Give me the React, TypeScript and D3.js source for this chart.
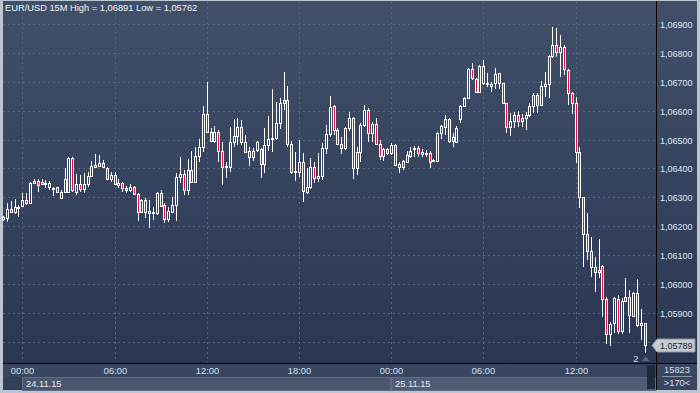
import React, { useEffect } from "react";
import * as d3 from "d3";

const symbol = "EUR/USD";
const timeframe = "15M";

const open = [
  1.06225, 1.0623, 1.06259, 1.06249, 1.06262, 1.06271, 1.06291, 1.0628, 1.06349, 1.06356,
  1.06345, 1.06345, 1.06349, 1.06332, 1.06335, 1.06297, 1.0632, 1.0632, 1.06435, 1.0632,
  1.06345, 1.06328, 1.06345, 1.06374, 1.06406, 1.06409, 1.0642, 1.06401, 1.06363, 1.06378,
  1.06344, 1.06351, 1.06332, 1.06327, 1.06336, 1.06312, 1.06249, 1.06291, 1.06247, 1.06245,
  1.06245, 1.06314, 1.06274, 1.06224, 1.06251, 1.06274, 1.0637, 1.06381, 1.06326, 1.06395,
  1.06354, 1.06443, 1.06473, 1.06589, 1.06527, 1.06496, 1.06525, 1.06462, 1.06404, 1.06406,
  1.06493, 1.06513, 1.06544, 1.06493, 1.06461, 1.06441, 1.06464, 1.06466, 1.06415, 1.06481,
  1.06502, 1.06505, 1.06556, 1.06626, 1.06637, 1.06484, 1.06387, 1.06389, 1.06422, 1.0632,
  1.06337, 1.06406, 1.06366, 1.06375, 1.0647, 1.06518, 1.06615, 1.06534, 1.06484, 1.0647,
  1.06539, 1.06574, 1.06403, 1.06458, 1.06551, 1.06602, 1.06522, 1.06553, 1.06484, 1.06443,
  1.06468, 1.06453, 1.06481, 1.06406, 1.06426, 1.06424, 1.06443, 1.06468, 1.06472, 1.0645,
  1.06449, 1.06453, 1.06426, 1.06426, 1.06522, 1.06545, 1.0657, 1.06508, 1.06493, 1.0657,
  1.06616, 1.06643, 1.06744, 1.06709, 1.06666, 1.06695, 1.06691, 1.06686, 1.06695, 1.06729,
  1.06695, 1.06626, 1.06545, 1.06564, 1.06585, 1.06564, 1.06574, 1.06585, 1.06616, 1.06654,
  1.0662, 1.06686, 1.06691, 1.06789, 1.06827, 1.06804, 1.06819, 1.06741, 1.06662, 1.06626,
  1.06458, 1.063, 1.06173, 1.06115, 1.06058, 1.06041, 1.06063, 1.05949, 1.05827, 1.05864,
  1.05949, 1.05839, 1.05943, 1.05957, 1.0589, 1.05968, 1.05859, 1.05864,
];

const high = [
  1.06236, 1.06281, 1.06287, 1.06294, 1.06274, 1.06314, 1.06316, 1.06354, 1.06363, 1.06363,
  1.06363, 1.0636, 1.06358, 1.06337, 1.06337, 1.06324, 1.06401, 1.06439, 1.06441, 1.06381,
  1.06378, 1.06383, 1.06389, 1.06427, 1.06449, 1.06447, 1.06429, 1.06404, 1.06389, 1.06389,
  1.06363, 1.06354, 1.0634, 1.06345, 1.0634, 1.06314, 1.06295, 1.06297, 1.06291, 1.06268,
  1.0632, 1.06326, 1.0628, 1.06268, 1.06302, 1.06383, 1.06441, 1.06395, 1.06433, 1.06461,
  1.06476, 1.06502, 1.06617, 1.067, 1.06539, 1.06547, 1.06533, 1.06493, 1.06424, 1.06545,
  1.06571, 1.06574, 1.06568, 1.06516, 1.06476, 1.0647, 1.06495, 1.0647, 1.06539, 1.06583,
  1.06675, 1.06631, 1.06643, 1.06735, 1.06687, 1.06495, 1.06458, 1.06499, 1.06453, 1.06403,
  1.06435, 1.06424, 1.06453, 1.06487, 1.06551, 1.06651, 1.0662, 1.06539, 1.0651, 1.06545,
  1.06594, 1.06579, 1.06476, 1.06557, 1.0662, 1.06608, 1.06562, 1.06576, 1.06499, 1.06472,
  1.06472, 1.06487, 1.06484, 1.06424, 1.06429, 1.06461, 1.06476, 1.06479, 1.06479, 1.06468,
  1.06464, 1.06461, 1.06433, 1.06527, 1.06551, 1.06585, 1.06574, 1.06522, 1.06547, 1.0662,
  1.06649, 1.06747, 1.06766, 1.06712, 1.06758, 1.06775, 1.06729, 1.067, 1.06747, 1.06732,
  1.06697, 1.06628, 1.06593, 1.06597, 1.06599, 1.06589, 1.06597, 1.06628, 1.0666, 1.06661,
  1.06702, 1.06734, 1.06793, 1.06891, 1.06885, 1.06862, 1.06827, 1.06743, 1.06666, 1.06646,
  1.06476, 1.06302, 1.06247, 1.06162, 1.06095, 1.06155, 1.06066, 1.05957, 1.0587, 1.05954,
  1.05962, 1.05952, 1.0602, 1.0598, 1.05974, 1.06017, 1.05913, 1.05867,
];

const low = [
  1.06219, 1.06216, 1.06247, 1.06243, 1.06233, 1.06268, 1.06274, 1.06276, 1.06345, 1.06318,
  1.06342, 1.06332, 1.06326, 1.06305, 1.06316, 1.06295, 1.06316, 1.06314, 1.06318, 1.06308,
  1.0632, 1.06316, 1.06337, 1.06372, 1.06404, 1.06404, 1.06401, 1.0636, 1.06354, 1.06342,
  1.06334, 1.06318, 1.06316, 1.0632, 1.06308, 1.06219, 1.06245, 1.0623, 1.06193, 1.06222,
  1.06239, 1.06268, 1.0621, 1.06216, 1.06249, 1.06219, 1.06349, 1.06308, 1.06308, 1.06349,
  1.06352, 1.06422, 1.06456, 1.06522, 1.06493, 1.06487, 1.06422, 1.06343, 1.06368, 1.06389,
  1.06476, 1.06481, 1.06481, 1.06456, 1.0641, 1.06427, 1.06456, 1.06366, 1.06383, 1.06461,
  1.06456, 1.06499, 1.06537, 1.06602, 1.06476, 1.0638, 1.06357, 1.06372, 1.06283, 1.06311,
  1.06329, 1.06349, 1.06352, 1.0636, 1.06449, 1.0651, 1.06516, 1.06481, 1.06449, 1.06464,
  1.0653, 1.06364, 1.06378, 1.06422, 1.06545, 1.06493, 1.06493, 1.06481, 1.06429, 1.06426,
  1.06447, 1.06447, 1.06409, 1.06386, 1.06395, 1.06418, 1.06437, 1.06441, 1.06441, 1.06439,
  1.06441, 1.06401, 1.06422, 1.06424, 1.06502, 1.06516, 1.06487, 1.06473, 1.06487, 1.06556,
  1.06614, 1.06641, 1.06706, 1.06662, 1.06662, 1.06689, 1.06681, 1.06666, 1.06674, 1.06674,
  1.06622, 1.06522, 1.06513, 1.06539, 1.06545, 1.06543, 1.06533, 1.06579, 1.06593, 1.06592,
  1.06616, 1.06647, 1.06643, 1.06781, 1.06785, 1.06718, 1.06724, 1.0662, 1.06588, 1.0642,
  1.06262, 1.06058, 1.06083, 1.06024, 1.05972, 1.0602, 1.05887, 1.05792, 1.05787, 1.05832,
  1.05827, 1.05827, 1.05938, 1.05832, 1.05887, 1.05853, 1.05807, 1.05762,
];

const close = [
  1.06231, 1.06259, 1.06249, 1.06268, 1.06268, 1.06291, 1.0628, 1.06351, 1.06358, 1.06343,
  1.06353, 1.06351, 1.06335, 1.06329, 1.06318, 1.0632, 1.06363, 1.06435, 1.06326, 1.06345,
  1.06329, 1.06345, 1.06374, 1.0641, 1.06413, 1.0642, 1.06404, 1.06363, 1.06378, 1.06345,
  1.0635, 1.06332, 1.06325, 1.06336, 1.06311, 1.06249, 1.06291, 1.06251, 1.06253, 1.06251,
  1.06314, 1.0627, 1.06224, 1.06253, 1.06274, 1.0637, 1.06381, 1.06326, 1.06395, 1.06354,
  1.06443, 1.06473, 1.06589, 1.06527, 1.06496, 1.06525, 1.06462, 1.06404, 1.0641, 1.06493,
  1.06513, 1.06544, 1.06493, 1.06458, 1.06441, 1.06461, 1.06493, 1.06415, 1.06481, 1.06502,
  1.06507, 1.06556, 1.06626, 1.06637, 1.06484, 1.06387, 1.06391, 1.06422, 1.06322, 1.06337,
  1.06406, 1.06366, 1.06375, 1.0647, 1.06518, 1.06614, 1.06534, 1.06484, 1.0647, 1.06539,
  1.06574, 1.06403, 1.06458, 1.06551, 1.06602, 1.06522, 1.06553, 1.06484, 1.06443, 1.06468,
  1.06453, 1.06481, 1.06412, 1.06415, 1.06406, 1.06447, 1.06461, 1.06472, 1.06453, 1.06456,
  1.06453, 1.06424, 1.06429, 1.06522, 1.06547, 1.0657, 1.06496, 1.06496, 1.06539, 1.06616,
  1.06643, 1.06744, 1.06712, 1.06666, 1.06755, 1.06755, 1.06697, 1.06691, 1.06727, 1.06695,
  1.06626, 1.06545, 1.06564, 1.06585, 1.06564, 1.06574, 1.06585, 1.06616, 1.06654, 1.0662,
  1.06684, 1.06691, 1.06789, 1.06827, 1.06804, 1.06819, 1.06743, 1.06662, 1.06626, 1.06458,
  1.063, 1.06173, 1.06115, 1.06058, 1.06041, 1.06049, 1.05949, 1.05827, 1.05862, 1.05951,
  1.05839, 1.05943, 1.05954, 1.05893, 1.05968, 1.05859, 1.05864, 1.05789,
];

const timeTickIndex = [5, 29, 53, 77, 101, 125, 149];
const timeTickLabels = ["00:00", "06:00", "12:00", "18:00", "00:00", "06:00", "12:00"];
const dateStartIndex = [5, 101];
const dateLabels = ["24.11.15", "25.11.15"];
const priceTicks = [1.058, 1.059, 1.06, 1.061, 1.062, 1.063, 1.064, 1.065, 1.066, 1.067, 1.068, 1.069];
const volumeLabel = "15823";
const barsLabel = ">170<";
const markerCount = "2";

const W = 700;
const H = 393;
const PLOT_L = 3;
const PLOT_R = 656;
const PLOT_T = 2;
const PLOT_B = 363;
const FONT = "'Liberation Sans', Arial, sans-serif";
const RED = "#e5103d";

const fmt = (v: number) => d3.format(".5f")(v).replace(".", ",");

export default function App() {
  useEffect(() => {
    document.body.style.margin = "0";
  }, []);

  const n = close.length;
  const x = d3.scaleLinear().domain([0, n - 1]).range([3.09, 3.09 + (n - 1) * 3.842]);
  const y = d3.scaleLinear().domain([1.058, 1.069]).range([341.9, 24]);

  const maxHigh = d3.max(high) as number;
  const minLow = d3.min(low) as number;
  const title = `${symbol} ${timeframe} High = ${fmt(maxHigh)} Low = ${fmt(minLow)}`;

  const candles = d3.range(n).map((i) => {
    const o = open[i];
    const c = close[i];
    const p = Math.round(x(i));
    let top = Math.round(y(Math.max(o, c)));
    let bot = Math.round(y(Math.min(o, c)));
    if (bot - top < 1) bot = top + 1;
    const yh = Math.round(y(high[i]));
    const yl = Math.round(y(low[i]));
    const bear = c < o;
    return (
      <g key={i}>
        {yh < top && <line x1={p + 0.5} x2={p + 0.5} y1={yh} y2={top} stroke="#fff" strokeWidth={1} />}
        {yl > bot && <line x1={p + 0.5} x2={p + 0.5} y1={bot + 1} y2={yl} stroke="#fff" strokeWidth={1} />}
        <rect x={p - 0.5} y={top + 0.5} width={2} height={bot - top} fill={bear ? RED : "url(#bg)"} stroke="#fff" strokeWidth={1} />
      </g>
    );
  });

  const lastClose = close[n - 1];
  const lastY = Math.round(y(lastClose)) + 0.5;
  const lastX = Math.round(x(n - 1));
  const axisLabels = priceTicks.filter((t) => Math.abs(y(t) - lastY) > 11);

  return (
    <div>
      <svg width={W} height={H} style={{ position: "absolute", left: 0, top: 0, display: "block" }} fontFamily={FONT}>
        <defs>
          <linearGradient id="bg" gradientUnits="userSpaceOnUse" x1={0} y1={0} x2={0} y2={PLOT_B}>
            <stop offset="0" stopColor="#414f69" />
            <stop offset="0.5" stopColor="#36435e" />
            <stop offset="1" stopColor="#2b3653" />
          </linearGradient>
        </defs>
        {/* frame */}
        <rect x={0} y={0} width={W} height={H} fill="#bcc4d0" />
        <rect x={3} y={1} width={694} height={PLOT_B - 1} fill="url(#bg)" />
        {/* bottom axis area */}
        <rect x={3} y={PLOT_B} width={694} height={390 - PLOT_B} fill="#3a465f" />
        <rect x={3} y={377} width={x(dateStartIndex[0]) - 3} height={13} fill="#34405a" />
        {dateStartIndex.map((di, k) => {
          const x0 = Math.round(x(di));
          const x1 = k + 1 < dateStartIndex.length ? Math.round(x(dateStartIndex[k + 1])) : PLOT_R;
          return (
            <g key={k}>
              <rect x={x0 + 0.5} y={377.5} width={x1 - x0 - 1} height={13} fill={k === 0 ? "#4a566e" : "#515d75"} stroke="#5f6b84" strokeWidth={1} />
              <text x={x0 + 4} y={386.5} fill="#e6ebf3" fontSize={9.3}>{dateLabels[k]}</text>
            </g>
          );
        })}
        <rect x={647} y={365} width={8} height={24} fill="#202a3e" />
        {/* horizontal grid */}
        {priceTicks.map((t) => (
          <line key={t} x1={PLOT_L} x2={PLOT_R} y1={Math.round(y(t)) + 0.5} y2={Math.round(y(t)) + 0.5} stroke="#56637d" strokeDasharray="2,3" />
        ))}
        {/* vertical grid */}
        {timeTickIndex.map((ti, k) => (
          <line key={k} x1={Math.round(x(ti)) + 0.5} x2={Math.round(x(ti)) + 0.5} y1={PLOT_T} y2={PLOT_B} stroke="#56637d" strokeDasharray="2,3" />
        ))}
        {/* candles */}
        {candles}
        {/* axes lines */}
        <line x1={3} x2={697} y1={PLOT_B + 0.5} y2={PLOT_B + 0.5} stroke="#000" />
        <line x1={PLOT_R + 0.5} x2={PLOT_R + 0.5} y1={1} y2={390} stroke="#000" />
        {/* price labels */}
        {axisLabels.map((t) => (
          <text key={t} x={660} y={Math.round(y(t)) + 3.5} fill="#dde7f5" fontSize={9}>{fmt(t)}</text>
        ))}
        {/* time labels */}
        {timeTickIndex.map((ti, k) => (
          <text key={k} x={Math.round(x(ti)) + 0.5} y={374} fill="#cfe0f7" fontSize={9.3} textAnchor="middle">{timeTickLabels[k]}</text>
        ))}
        {/* title */}
        <text x={5} y={11} fill="#f2f4f8" fontSize={9.3}>{title}</text>
        {/* last price marker */}
        <path d={`M652,${lastY} L657,${lastY - 6.5} L695,${lastY - 6.5} L695,${lastY + 6.5} L657,${lastY + 6.5} Z`} fill="#c6cad1" stroke="#8d949f" strokeWidth={1} />
        <text x={660} y={lastY + 3.5} fill="#1d2535" fontSize={9}>{fmt(lastClose)}</text>
        {/* marker count */}
        <text x={lastX - 9} y={362} fill="#cdd8ea" fontSize={9.5} textAnchor="middle">{markerCount}</text>
        <path d={`M${lastX - 3},361 L${lastX + 4.5},361 L${lastX + 0.75},356.5 Z`} fill="#5d6a83" />
        {/* right-bottom box */}
        <text x={677} y={373} fill="#d4def0" fontSize={9.3} textAnchor="middle">{volumeLabel}</text>
        <line x1={662} x2={692} y1={376.5} y2={376.5} stroke="#8a94a6" />
        <text x={677} y={386} fill="#d4def0" fontSize={9.3} textAnchor="middle">{barsLabel}</text>
      </svg>
    </div>
  );
}
